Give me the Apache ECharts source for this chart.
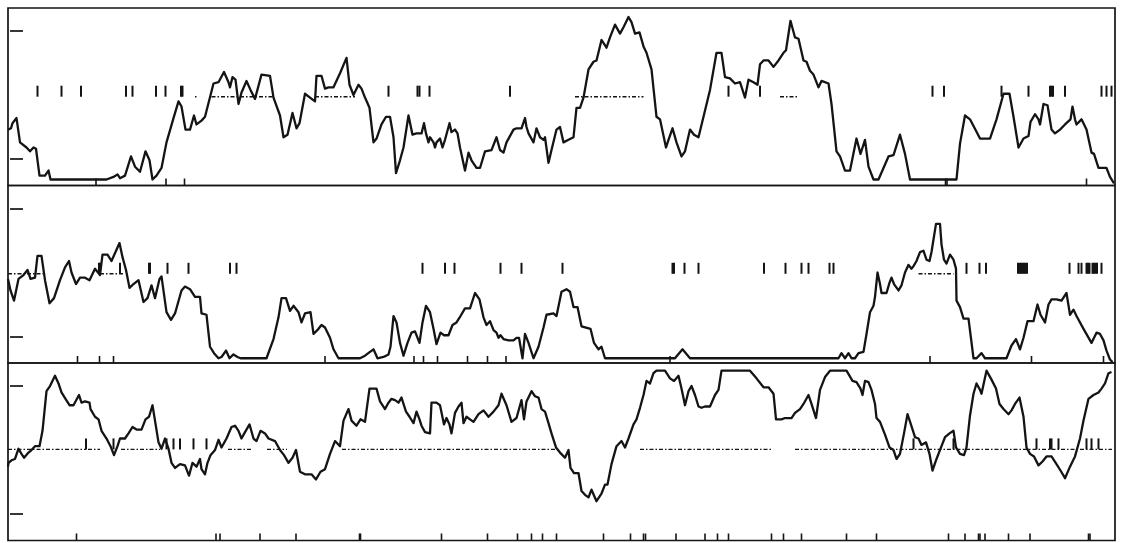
<!DOCTYPE html>
<html>
<head>
<meta charset="utf-8">
<script src="https://cdn.jsdelivr.net/npm/echarts@6/dist/echarts.min.js"></script>
<style>
  html, body { margin: 0; padding: 0; background: #ffffff; }
  #chart { width: 1123px; height: 543px; }
</style>
</head>
<body>
<div id="chart"></div>
<script>
// Three stacked recordings. Each trace is a list of [time, level] samples;
// the y scale has reference ticks at 0 and 10.
const trace1 = [[-0.4,2.3],[0.2,2.4],[0.5,2.8],[1.3,3.2],[2.0,1.3],[3.3,0.9],[4.0,0.6],[4.7,0.9],[5.2,0.8],[5.9,-1.3],[7.0,-1.3],[7.7,-0.9],[8.1,-1.6],[19.3,-1.6],[20.7,-1.4],[21.5,-1.2],[22.0,-1.5],[23.0,-1.3],[24.2,0.2],[25.0,-0.6],[26.0,-1.0],[27.1,0.6],[27.9,-0.1],[28.5,-1.6],[29.3,-1.3],[30.3,-0.7],[31.3,1.3],[32.7,3.2],[33.7,4.5],[34.3,4.1],[35.1,2.3],[36.0,2.3],[36.8,3.4],[37.3,2.7],[38.3,3.0],[39.0,3.3],[40.7,5.9],[41.7,6.0],[42.8,6.8],[43.7,6.0],[44.0,5.6],[44.5,6.4],[45.1,6.2],[45.7,4.3],[46.3,5.2],[47.3,6.1],[48.1,5.4],[49.0,4.7],[50.3,6.6],[52.0,6.5],[52.7,4.8],[54.0,3.4],[54.7,1.7],[55.5,1.9],[56.5,3.6],[57.3,2.4],[57.9,2.8],[59.0,5.1],[60.0,4.8],[61.0,4.5],[61.3,6.5],[62.3,6.5],[63.0,5.5],[63.7,5.6],[64.7,5.6],[66.0,6.7],[67.3,7.9],[67.9,5.8],[68.7,5.0],[69.7,5.8],[70.3,5.5],[71.0,4.8],[71.9,4.0],[72.7,1.3],[73.3,1.6],[74.3,2.7],[75.2,3.3],[76.0,3.3],[76.7,1.7],[77.2,-1.1],[78.0,-0.1],[78.7,0.9],[79.7,3.4],[80.5,1.9],[81.3,2.0],[82.3,2.0],[82.8,2.8],[83.2,2.0],[83.7,1.3],[84.0,1.7],[84.7,1.3],[85.0,0.9],[85.3,1.3],[86.0,1.6],[86.5,0.9],[87.0,1.5],[87.9,2.8],[88.3,2.1],[89.0,2.3],[89.5,2.0],[90.0,0.9],[91.0,-0.9],[91.7,0.5],[92.3,-0.1],[93.3,-0.7],[94.0,-0.7],[95.0,0.6],[96.3,0.7],[97.3,1.7],[98.0,0.7],[98.7,0.5],[99.3,1.3],[100.7,2.3],[101.3,2.4],[102.3,2.4],[103.0,3.2],[103.3,2.5],[103.7,2.0],[104.7,1.3],[105.3,2.4],[106.0,1.7],[106.7,1.5],[107.0,1.7],[107.7,-0.3],[108.3,0.7],[109.3,2.3],[110.0,2.5],[110.7,1.3],[111.7,1.5],[112.7,1.7],[113.3,4.0],[114.0,4.0],[114.7,4.8],[115.7,7.0],[116.7,7.6],[117.3,7.7],[118.3,9.3],[119.3,8.7],[120.0,9.5],[121.0,10.5],[122.0,9.8],[122.7,10.3],[123.7,11.1],[124.3,10.7],[125.0,9.8],[125.9,9.9],[126.7,8.8],[127.3,8.3],[128.3,7.0],[129.3,3.3],[130.0,3.1],[131.2,0.9],[131.7,1.5],[132.5,2.4],[133.3,1.3],[134.3,0.2],[135.0,0.6],[136.0,2.3],[136.8,1.9],[137.7,1.7],[138.7,3.3],[140.0,5.4],[141.3,8.3],[142.3,8.3],[143.0,6.4],[144.0,6.3],[145.0,5.9],[146.0,6.0],[147.0,4.8],[147.7,6.2],[148.7,6.0],[149.5,5.8],[150.0,7.4],[150.7,7.7],[151.7,7.7],[152.7,7.2],[153.7,7.7],[154.7,8.3],[155.2,8.5],[156.1,10.8],[157.0,9.5],[157.7,9.4],[158.7,7.7],[159.3,7.6],[160.0,6.9],[160.7,6.6],[161.7,5.6],[162.3,6.1],[163.7,5.9],[164.3,4.3],[165.3,0.6],[166.0,0.2],[167.0,-0.9],[168.0,-0.9],[169.3,1.6],[170.1,0.4],[171.0,1.5],[171.7,-0.6],[172.7,-1.6],[173.7,-1.6],[175.7,0.2],[176.7,0.3],[178.0,1.9],[179.0,0.4],[180.0,-1.6],[189.3,-1.6],[190.0,1.2],[191.0,3.4],[192.0,3.1],[194.0,1.6],[196.0,1.6],[197.3,3.1],[198.7,5.1],[199.9,5.1],[200.7,3.3],[201.7,0.9],[202.7,1.6],[203.7,1.8],[204.1,2.9],[205.0,3.5],[205.7,3.1],[206.0,2.7],[206.7,4.3],[207.5,4.2],[208.3,2.3],[209.0,2.0],[210.0,2.3],[211.0,2.7],[212.1,3.1],[212.5,4.1],[213.0,3.1],[213.3,2.7],[214.3,3.1],[215.3,2.3],[216.3,0.5],[216.8,0.4],[217.7,-0.7],[219.3,-0.7],[220.0,-1.4],[220.8,-1.9]];

const trace2 = [[-0.4,4.5],[0.1,3.6],[0.8,2.8],[1.7,4.5],[2.1,4.4],[2.7,4.8],[3.5,5.2],[4.1,4.5],[5.0,4.6],[5.5,6.3],[6.3,6.3],[7.0,4.4],[7.9,2.6],[8.8,3.0],[10.0,4.4],[11.0,5.4],[11.8,5.9],[12.3,5.0],[13.2,4.1],[14.0,4.6],[15.0,4.6],[15.9,4.4],[17.0,5.3],[18.0,4.8],[18.5,6.4],[19.5,6.4],[20.3,5.9],[21.1,6.6],[21.9,7.3],[22.5,6.2],[23.2,5.2],[23.9,3.8],[24.7,4.1],[25.7,4.4],[26.7,2.7],[27.5,3.0],[28.3,4.0],[29.0,3.0],[29.9,4.5],[30.3,4.7],[31.3,1.9],[32.2,1.3],[33.0,1.8],[34.3,3.6],[35.0,3.9],[36.0,3.7],[37.0,3.1],[38.0,3.1],[38.3,1.8],[39.3,1.7],[40.0,-0.8],[40.8,-1.3],[41.7,-1.7],[42.3,-1.6],[43.2,-1.1],[43.9,-1.7],[44.7,-1.4],[45.5,-1.6],[46.1,-1.7],[51.3,-1.7],[52.7,-0.2],[53.7,1.5],[54.3,3.0],[55.2,3.0],[56.0,2.0],[56.7,2.4],[57.7,1.9],[58.3,1.1],[59.0,1.8],[60.1,1.9],[60.7,0.2],[61.7,0.6],[62.3,0.9],[63.0,0.7],[64.0,-0.1],[64.7,-1.0],[65.7,-1.7],[70.0,-1.7],[71.0,-1.5],[72.0,-1.2],[72.7,-1.0],[73.5,-1.7],[74.7,-1.6],[75.7,-1.4],[76.1,-0.8],[76.7,1.6],[77.3,1.1],[78.0,-0.5],[78.7,-1.5],[79.5,-0.5],[80.3,0.3],[81.0,0.4],[81.9,-0.5],[82.5,1.1],[83.2,2.4],[84.0,1.9],[84.7,0.6],[85.3,-0.6],[86.1,0.3],[86.8,0.1],[87.7,0.1],[88.5,0.9],[89.3,1.1],[90.1,1.6],[91.0,2.2],[92.0,2.2],[93.0,3.4],[93.9,2.9],[94.7,1.5],[95.3,0.9],[96.0,1.2],[96.7,0.5],[97.3,0.3],[97.7,-0.1],[98.1,0.1],[98.7,-0.2],[99.7,-0.3],[100.7,-0.3],[101.3,-0.1],[101.8,-0.1],[102.5,-1.7],[103.0,0.2],[103.7,-0.5],[104.7,-1.7],[105.7,-0.8],[106.7,0.7],[107.3,1.7],[108.7,1.8],[109.3,1.6],[110.3,3.5],[111.3,3.7],[112.0,3.5],[112.7,2.3],[113.5,2.3],[114.3,0.8],[115.2,0.7],[116.1,0.6],[116.8,-0.5],[117.7,-1.0],[118.3,-0.8],[119.0,-1.7],[133.0,-1.7],[134.5,-1.0],[136.0,-1.7],[165.7,-1.7],[166.3,-1.3],[167.0,-1.7],[167.7,-1.3],[168.3,-1.7],[169.0,-1.7],[169.7,-1.3],[170.7,-1.2],[171.3,0.2],[172.0,1.9],[172.7,2.4],[173.0,3.1],[173.5,5.0],[174.0,4.1],[174.3,3.4],[175.3,3.4],[175.9,4.2],[176.3,4.6],[176.8,4.1],[177.7,3.6],[178.3,4.0],[179.0,5.0],[179.7,5.6],[180.3,5.3],[180.7,5.5],[181.3,5.9],[182.0,6.6],[182.7,6.7],[183.3,6.0],[183.9,5.9],[184.3,6.6],[185.2,8.8],[186.0,8.8],[186.3,7.2],[186.8,6.0],[187.3,5.7],[188.0,6.4],[188.7,6.0],[189.2,5.3],[189.3,2.8],[190.0,2.3],[190.7,1.4],[191.7,1.4],[192.7,-1.7],[193.3,-1.7],[194.3,-1.3],[195.0,-1.7],[199.3,-1.7],[200.3,-0.7],[201.2,-0.2],[202.0,-1.0],[202.7,-0.1],[203.5,1.2],[204.7,1.2],[205.5,2.5],[206.1,1.7],[207.0,1.1],[207.7,2.5],[208.3,2.9],[209.3,2.9],[210.3,2.8],[211.3,3.4],[212.0,1.7],[212.7,2.1],[213.3,1.6],[214.7,0.6],[216.3,-0.5],[217.3,0.3],[218.0,0.2],[218.7,-0.3],[219.3,-1.1],[220.0,-1.8],[220.5,-2.0]];

const trace3 = [[-0.4,3.7],[-0.3,4.0],[0.3,4.2],[1.0,4.3],[1.7,5.1],[2.3,4.7],[2.8,4.4],[3.7,4.8],[4.3,5.0],[5.0,5.3],[5.9,5.3],[6.5,6.5],[7.3,9.6],[8.0,10.0],[9.0,10.8],[9.7,10.2],[10.3,9.5],[11.1,9.0],[11.9,8.5],[12.7,8.5],[13.8,9.3],[14.3,8.7],[15.0,8.8],[15.9,8.7],[16.1,8.2],[17.0,7.6],[17.7,7.4],[18.3,6.5],[19.3,5.9],[20.1,5.3],[20.8,4.6],[21.5,5.3],[22.0,5.9],[23.0,5.9],[23.7,6.3],[24.5,6.8],[25.3,6.6],[26.3,6.6],[27.1,7.4],[27.8,7.6],[28.5,8.5],[29.0,7.3],[29.7,5.6],[30.3,5.1],[31.0,5.9],[31.7,5.1],[32.3,4.0],[33.0,3.6],[34.0,3.9],[35.0,3.8],[35.8,3.0],[36.5,4.0],[37.3,3.7],[38.0,4.3],[38.3,3.5],[39.0,3.1],[39.5,4.0],[40.1,4.6],[41.0,5.0],[41.7,5.8],[42.3,5.2],[43.3,5.9],[44.3,6.8],[45.0,6.9],[45.7,6.5],[46.3,5.9],[47.0,6.4],[47.9,7.0],[48.7,5.9],[49.3,5.7],[50.1,6.5],[51.0,6.3],[51.7,5.9],[53.0,5.7],[54.0,5.0],[54.8,4.6],[55.7,4.0],[56.5,4.4],[57.2,5.0],[58.0,3.3],[59.0,3.1],[60.3,3.1],[61.2,2.7],[62.1,3.3],[63.0,3.5],[64.0,4.7],[65.0,5.7],[66.0,5.3],[66.7,7.3],[67.7,8.2],[68.3,7.3],[69.3,6.9],[70.1,7.4],[71.0,7.2],[71.9,9.8],[72.7,9.8],[73.3,9.8],[74.0,8.8],[75.0,8.2],[75.7,8.7],[76.3,9.0],[77.0,8.9],[77.7,8.7],[78.3,9.1],[78.7,8.6],[79.2,8.0],[79.9,7.6],[80.7,7.1],[81.3,8.0],[81.9,7.4],[82.3,6.9],[83.0,6.4],[84.0,6.3],[84.3,8.7],[85.3,8.7],[86.0,8.5],[86.8,7.0],[87.3,7.5],[87.9,7.0],[88.3,6.3],[89.0,7.9],[89.7,8.4],[90.3,8.7],[90.7,7.1],[91.3,7.6],[92.0,7.4],[92.7,7.2],[93.7,7.8],[94.7,8.1],[95.7,7.6],[96.7,8.0],[97.7,8.5],[98.3,9.4],[99.3,8.5],[100.3,7.2],[101.3,7.5],[102.3,8.9],[102.8,7.4],[103.3,8.8],[104.3,9.6],[105.0,9.2],[105.7,9.1],[106.3,8.2],[107.0,8.0],[107.7,7.1],[108.3,6.3],[109.2,5.2],[110.0,4.8],[111.0,4.4],[111.7,5.0],[112.1,3.6],[112.8,3.2],[113.7,3.2],[114.3,1.8],[115.0,1.5],[115.7,1.3],[116.3,1.9],[117.3,1.0],[118.3,1.6],[119.0,2.3],[119.5,2.3],[120.3,3.9],[121.3,5.3],[122.3,5.7],[123.0,5.2],[123.7,5.9],[124.7,7.0],[125.3,7.4],[126.0,8.3],[126.7,9.3],[127.3,10.4],[128.0,10.2],[128.7,11.0],[129.3,11.2],[130.3,11.2],[131.0,11.2],[132.0,10.6],[132.8,10.4],[133.7,10.8],[134.3,9.8],[135.0,8.5],[135.7,9.6],[136.3,10.0],[137.0,9.3],[137.7,8.4],[138.3,8.3],[139.0,8.4],[140.0,8.4],[141.0,9.3],[141.7,9.7],[142.3,11.2],[148.0,11.2],[149.3,10.6],[150.7,9.9],[151.7,9.9],[152.7,9.4],[153.2,7.4],[154.3,7.4],[155.0,7.5],[156.3,7.5],[157.0,7.9],[158.0,8.2],[158.7,8.6],[159.7,9.3],[160.3,8.6],[161.2,7.5],[162.0,9.7],[163.0,10.7],[164.0,11.2],[167.3,11.2],[168.5,10.4],[169.3,10.3],[170.1,9.8],[170.5,9.3],[171.0,10.4],[171.7,10.3],[172.3,9.7],[173.0,8.6],[173.3,7.5],[174.0,7.2],[175.0,6.2],[175.9,5.2],[176.7,5.0],[177.3,4.3],[178.0,4.7],[178.8,6.3],[179.5,7.8],[180.1,7.1],[181.0,6.0],[181.7,5.9],[182.3,5.4],[183.2,5.6],[183.9,4.7],[184.5,3.4],[185.3,4.3],[186.3,5.3],[187.0,6.0],[187.9,6.3],[188.7,6.5],[189.2,5.2],[190.0,4.7],[190.8,4.6],[191.3,5.2],[192.0,7.7],[192.7,9.4],[193.3,10.2],[194.0,9.7],[194.3,9.4],[195.3,11.2],[196.3,10.5],[197.2,9.8],[197.9,8.6],[198.7,8.2],[199.7,7.8],[200.3,8.1],[201.0,8.6],[201.9,9.1],[202.7,7.6],[203.3,5.2],[204.0,4.7],[204.8,4.5],[205.7,3.8],[206.5,4.1],[207.3,4.5],[208.3,4.5],[209.3,3.9],[210.1,3.4],[211.0,2.8],[212.0,3.7],[213.0,4.5],[214.0,5.9],[214.7,7.3],[215.7,9.0],[216.7,9.3],[217.7,9.5],[218.3,9.8],[219.0,10.2],[219.7,11.0],[220.3,11.1]];

// Criterion level per recording (the dotted line sits on it).
const levels = [4.87, 4.9, 5.05];

// Event times marked just above the criterion level.
const events1 = [5.5,10.3,14.2,23.2,24.5,29.2,31.1,34.2,34.5,75.7,81.5,81.9,83.9,100.0,143.7,150.0,184.5,186.8,198.3,203.7,208.0,208.3,208.6,211.0,218.3,219.3,220.3];
const events2 = [17.8,18.0,22.0,27.8,28.0,31.5,35.7,44.0,45.3,82.5,87.0,88.9,98.1,102.3,110.5,132.5,132.8,134.9,137.7,150.8,155.1,158.3,159.7,163.9,164.7,191.3,193.9,195.2,201.6,201.9,202.2,202.5,202.8,203.1,203.4,211.9,213.7,214.3,215.3,215.6,215.9,216.5,216.8,217.1,217.4,218.3];
const events3 = [15.2,20.7,31.3,32.7,34.0,36.7,39.3,180.7,188.7,205.3,208.0,208.3,209.7,215.3,216.3,217.7];

// Event times marked on the time axis.
const axisEvents1 = [17.2,31.2,34.9,187.1,187.4,215.3];
const axisEvents2 = [13.5,17.9,20.7,63.0,80.8,82.7,85.5,91.5,95.5,99.2,132.0,184.0,204.3,218.7];
const axisEvents3 = [13.3,41.2,42.0,50.0,57.2,69.9,70.1,86.3,95.5,101.5,104.3,106.5,109.3,118.7,124.1,126.7,127.1,133.2,139.0,141.5,143.7,152.3,154.7,158.3,167.3,173.3,187.7,191.0,193.7,194.0,195.0,199.7,204.0,215.7,216.0];

// Stretches [start, end] drawn as a dotted line at the criterion level.
const runs1 = [[37.0,37.3],[40.3,52.5],[61.0,69.0],[113.0,126.7],[154.0,157.6]];
const runs2 = [[-0.4,6.6],[18.0,23.0],[181.7,188.7]];
const runs3 = [[-0.4,15.2],[15.6,18.0],[22.2,30.0],[43.6,48.6],[51.4,55.4],[66.4,109.0],[126.0,152.6],[157.0,220.4]];

const yTicks = [0, 10];

const Y_MIN = -2.07, Y_MAX = 11.8;
const X_MIN = -0.4, X_MAX = 221;
const GRID_TOPS = [8, 185.5, 363];
const GRID_H = 177.5;
const INK = '#141414';

const panels = [
  { trace: trace1, level: levels[0], events: events1, axisEvents: axisEvents1, runs: runs1 },
  { trace: trace2, level: levels[1], events: events2, axisEvents: axisEvents2, runs: runs2 },
  { trace: trace3, level: levels[2], events: events3, axisEvents: axisEvents3, runs: runs3 }
];

const option = {
  animation: false,
  backgroundColor: '#ffffff',
  grid: [], xAxis: [], yAxis: [], series: []
};

panels.forEach((p, i) => {
  option.grid.push({
    left: 8, right: 8, top: GRID_TOPS[i], height: GRID_H,
    show: true, borderColor: INK, borderWidth: 1.7, backgroundColor: 'transparent'
  });
  option.xAxis.push({
    type: 'value', gridIndex: i, min: X_MIN, max: X_MAX,
    axisLine: { show: false }, axisTick: { show: false },
    axisLabel: { show: false }, splitLine: { show: false }
  });
  option.yAxis.push({
    type: 'value', gridIndex: i, min: Y_MIN, max: Y_MAX,
    axisLine: { show: false }, splitLine: { show: false },
    axisLabel: { show: false },
    axisTick: { show: true, inside: true, length: 13, customValues: yTicks,
                lineStyle: { color: INK, width: 1.7 } }
  });

  // the recording itself
  option.series.push({
    type: 'line', xAxisIndex: i, yAxisIndex: i, data: p.trace,
    showSymbol: false, silent: true,
    lineStyle: { color: INK, width: 2.3, join: 'round' }
  });

  // dotted criterion line
  option.series.push({
    type: 'custom', xAxisIndex: i, yAxisIndex: i, silent: true,
    data: p.runs.map(r => [r[0], r[1], p.level]),
    encode: { x: [0, 1], y: 2 },
    renderItem: (params, api) => {
      const a = api.coord([api.value(0), api.value(2)]);
      const b = api.coord([api.value(1), api.value(2)]);
      return { type: 'line', shape: { x1: a[0], y1: a[1], x2: b[0], y2: b[1] },
               style: { stroke: INK, lineWidth: 1.4, lineDash: [4, 2, 1.5, 2] } };
    }
  });

  // event ticks standing on the criterion line
  option.series.push({
    type: 'custom', xAxisIndex: i, yAxisIndex: i, silent: true,
    data: p.events.map(t => [t, p.level]),
    renderItem: (params, api) => {
      const c = api.coord([api.value(0), api.value(1)]);
      return { type: 'line', shape: { x1: c[0], y1: c[1], x2: c[0], y2: c[1] - 11 },
               style: { stroke: INK, lineWidth: 2 } };
    }
  });

  // event ticks on the time axis
  option.series.push({
    type: 'custom', xAxisIndex: i, yAxisIndex: i, silent: true,
    data: p.axisEvents.map(t => [t, Y_MIN]),
    renderItem: (params, api) => {
      const c = api.coord([api.value(0), api.value(1)]);
      return { type: 'line', shape: { x1: c[0], y1: c[1], x2: c[0], y2: c[1] - 7 },
               style: { stroke: INK, lineWidth: 1.6 } };
    }
  });
});

const chart = echarts.init(document.getElementById('chart'), null, { renderer: 'canvas' });
chart.setOption(option);
</script>
</body>
</html>
